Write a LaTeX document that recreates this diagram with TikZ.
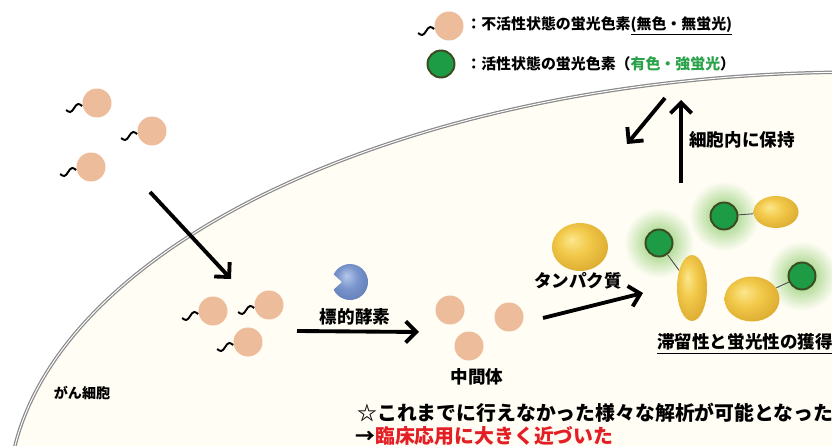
\documentclass[tikz,border=0pt]{standalone}
\usepackage{fontspec}
\setmainfont{Noto Sans CJK JP}[BoldFont={Noto Sans CJK JP Black}]
\usetikzlibrary{shapes.geometric,arrows.meta}

\definecolor{cellBg}{HTML}{FFFDF4}
\definecolor{memGray}{HTML}{8A8A8A}
\definecolor{dyePeach}{HTML}{EDBC9A}
\definecolor{dyeGreen}{HTML}{1E9B45}
\definecolor{dyeRim}{HTML}{3C4A22}
\definecolor{glowGreen}{HTML}{86C865}
\definecolor{protLight}{HTML}{FBE78C}
\definecolor{protYellow}{HTML}{F2C94A}
\definecolor{protDark}{HTML}{D9A82C}
\definecolor{enzLight}{HTML}{B4C6EA}
\definecolor{enzBlue}{HTML}{7A95CC}
\definecolor{enzDark}{HTML}{5C78B4}
\definecolor{txtGreen}{HTML}{2AA24A}
\definecolor{txtRed}{HTML}{E41E25}

% soft 3d look, light from the upper left
\pgfdeclareradialshading{protShade}{\pgfpoint{-8bp}{8bp}}{%
  color(0bp)=(protLight); color(14bp)=(protYellow); color(32bp)=(protDark); color(50bp)=(protDark)}
\pgfdeclareradialshading{enzShade}{\pgfpoint{-8bp}{8bp}}{%
  color(0bp)=(enzLight); color(14bp)=(enzBlue); color(32bp)=(enzDark); color(50bp)=(enzDark)}

\tikzstyle{dyeOff} = [circle, fill = dyePeach, minimum size = 0.58cm, inner sep = 0pt]
\tikzstyle{dyeOn} = [circle, fill = dyeGreen, draw = dyeRim, line width = 1.1pt,
                     minimum size = 0.54cm, inner sep = 0pt]
\tikzstyle{dyeGlow} = [inner color = glowGreen, outer color = cellBg]
\tikzstyle{dyeTail} = [line width = 1.1pt]
\tikzstyle{protBall} = [ellipse, shading = protShade, inner sep = 0pt]
\tikzstyle{linker} = [line width = 0.5pt, black!70]
\tikzstyle{membrane} = [draw = memGray, line width = 0.7pt, double = white, double distance = 0.55pt]
\tikzstyle{flowArrow} = [-{Straight Barb[length = 6pt, width = 12pt]}, line width = 2.2pt]
\tikzstyle{labMain} = [font = \bfseries\fontsize{10}{12}\selectfont, inner sep = 0pt]
\tikzstyle{labLegend} = [font = \bfseries\fontsize{8.5}{10}\selectfont, inner sep = 0pt, anchor = west]
\tikzstyle{labNote} = [font = \bfseries\fontsize{11.3}{13}\selectfont, inner sep = 0pt, anchor = west]

% wavy tail on the left of an inactive dye
\newcommand{\tailOf}[1]{\draw[dyeTail] (#1.west) ++(0,3) sin ++(-4,-2) cos ++(-4,4) sin ++(-4,4) cos ++(-4,-2);}

\begin{document}
\begin{tikzpicture}[x = 0.02cm, y = -0.02cm]

    \useasboundingbox (0,0) rectangle (832,446);

    %%% Cell
    \fill[cellBg] (860,500) ellipse [x radius = 17.04cm, y radius = 8.56cm];
    \draw[membrane] (860,500) ellipse [x radius = 17.04cm, y radius = 8.56cm];
    \node (cell) at (82,393) [font = \bfseries\fontsize{8}{10}\selectfont, inner sep = 0pt]{がん細胞};

    %%% Legend
    \node (legOff) at (449,26) [dyeOff]{};
    \tailOf{legOff}
    \node (legOffTxt) at (466,26) [labLegend]{：不活性状態の蛍光色素\underline{(無色・無蛍光)}};

    \node (legOn) at (441,64) [dyeOn]{};
    \node (legOnTxt) at (466,64) [labLegend]{：活性状態の蛍光色素（{\color{txtGreen}有色・強蛍光}）};

    %%% Outside the cell
    \node (o1) at (97,103) [dyeOff]{};
    \node (o2) at (152,131) [dyeOff]{};
    \node (o3) at (91,167) [dyeOff]{};
    \tailOf{o1} \tailOf{o2} \tailOf{o3}

    \coordinate (a1s) at (150,192);
    \coordinate (a1e) at (231,279);
    \draw[flowArrow] (a1s) -- (a1e);

    %%% Taken up
    \node (i1) at (213,311) [dyeOff]{};
    \node (i2) at (269,305) [dyeOff]{};
    \node (i3) at (248,342) [dyeOff]{};
    \tailOf{i1} \tailOf{i2} \tailOf{i3}

    % Target enzyme
    \shade[shading = enzShade] (342,282) -- (333.7,274.4) arc [start angle = 155, end angle = -155, radius = 0.36cm] -- cycle;
    \node (enz) at (355,317) [labMain]{標的酵素};

    \coordinate (a2s) at (297,331);
    \coordinate (a2e) at (419,332);
    \draw[flowArrow] (a2s) -- (a2e);

    %%% Intermediate
    \node (m1) at (450,310) [dyeOff]{};
    \node (m2) at (509,317) [dyeOff]{};
    \node (m3) at (469,346) [dyeOff]{};
    \node (mid) at (477,377) [labMain]{中間体};

    % Protein
    \node (prot) at (580,247) [protBall, minimum width = 1.12cm, minimum height = 0.96cm]{};
    \node (protTxt) at (578,281) [labMain]{タンパク質};

    \coordinate (a3s) at (543,318);
    \coordinate (a3e) at (643,293);
    \draw[flowArrow] (a3s) -- (a3e);

    %%% Bound and fluorescent
    \shade[dyeGlow] (659,243) circle (0.7cm);
    \shade[dyeGlow] (724,216) circle (0.7cm);
    \shade[dyeGlow] (802,276) circle (0.7cm);

    \node (pA) at (692,288) [protBall, minimum width = 0.6cm, minimum height = 1.32cm]{};
    \node (pB) at (776,212) [protBall, minimum width = 0.9cm, minimum height = 0.64cm]{};
    \node (pC) at (752,299) [protBall, minimum width = 1.1cm, minimum height = 0.9cm]{};

    \node (gA) at (659,243) [dyeOn]{};
    \node (gB) at (724,216) [dyeOn]{};
    \node (gC) at (802,276) [dyeOn]{};

    \draw[linker] (gA) -- (pA);
    \draw[linker] (gB) -- (pB);
    \draw[linker] (gC) -- (pC);

    \node (gain) at (745,344) [labMain]{\underline{滞留性と蛍光性の獲得}};

    % Kept inside
    \coordinate (a4s) at (681,183);
    \coordinate (a4e) at (681,100);
    \draw[flowArrow] (a4s) -- (a4e);
    \coordinate (a5s) at (665,98);
    \coordinate (a5e) at (627,144);
    \draw[flowArrow] (a5s) -- (a5e);
    \node (keep) at (689,140) [labMain, anchor = west]{細胞内に保持};

    %%% Notes
    \node (note1) at (357,413) [labNote]{☆これまでに行えなかった様々な解析が可能となった};
    \node (note2) at (355,436) [labNote]{→{\color{txtRed}臨床応用に大きく近づいた}};

\end{tikzpicture}
\end{document}
